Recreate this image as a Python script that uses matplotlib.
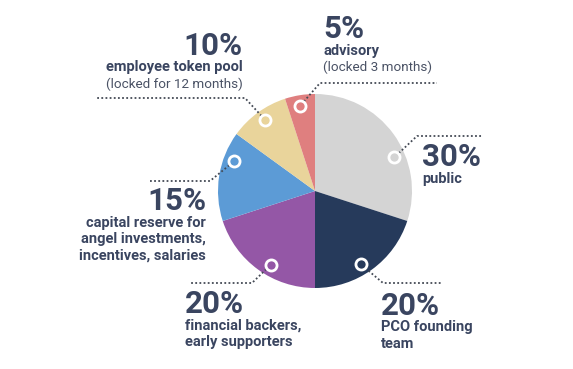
import matplotlib.pyplot as plt
import numpy as np

# data
labels = ['public', 'PCO founding\nteam', 'financial backers,\nearly supporters',
          'capital reserve for\nangel investments,\nincentives, salaries',
          'employee token pool', 'advisory']
notes = ['', '', '', '', '(locked for 12 months)', '(locked 3 months)']
shares = [30, 20, 20, 15, 10, 5]
colors = ['#d4d4d4', '#263a5b', '#9457a6', '#5c9bd6', '#e9d49b', '#df7f7f']

W, H = 573, 369
txt = '#3a4560'
plt.rcParams['font.family'] = ['Roboto', 'DejaVu Sans']

fig = plt.figure(figsize=(W / 100, H / 100), dpi=100)
ax = fig.add_axes([0, 0, 1, 1])

cx, cy, r = 315, H - 191, 97
ax.pie(shares, colors=colors, startangle=90, counterclock=False,
       center=(cx, cy), radius=r, frame=True,
       wedgeprops=dict(linewidth=0))
ax.set_xlim(0, W)
ax.set_ylim(0, H)
ax.set_aspect('equal')
ax.axis('off')

# layout: marker angle, leader path (pixel coords, y down), text anchor, alignment
marker_ang = [23, -58, -121, 160, 125, 100]
leaders = [
    [(417, 136), (482, 136)],
    [(383, 283), (442, 283)],
    [(252, 283), (190, 283)],
    [(210, 181), (150, 181)],
    [(245, 98), (97, 98)],
    [(320, 83), (437, 83)],
]
anchors = [(422, 166, 'left'), (381, 315, 'left'), (185, 313, 'left'),
           (206, 210, 'right'), (243, 55, 'right'), (323, 38, 'left')]
step = 16.5

for i, s in enumerate(shares):
    a = np.deg2rad(marker_ang[i])
    mx, my = cx + 0.89 * r * np.cos(a), cy + 0.89 * r * np.sin(a)
    ex, ey = leaders[i][0]
    fx, fy = leaders[i][1]
    ux, uy = ex - mx, (H - ey) - my
    d = np.hypot(ux, uy)
    sx, sy = mx + ux / d * 6, my + uy / d * 6
    ax.plot([sx, ex, fx], [sy, H - ey, H - fy], color='#444a55',
            lw=1.3, ls=(0, (1, 1.3)), solid_capstyle='butt', zorder=3)
    ax.plot(mx, my, 'o', ms=8, mfc='none', mec='white', mew=2, zorder=4)

    tx, ty, ha = anchors[i]
    ax.text(tx, H - ty, f'{s}%', fontsize=22.5, fontweight='bold', color=txt,
            ha=ha, va='baseline')
    lines = labels[i].split('\n')
    for k, line in enumerate(lines):
        ax.text(tx, H - ty - step * (k + 1), line, fontsize=10.5,
                fontweight='bold', color=txt, ha=ha, va='baseline')
    if notes[i]:
        ax.text(tx, H - ty - step * (len(lines) + 1), notes[i], fontsize=9.7,
                color='#4a5265', ha=ha, va='baseline')

fig.savefig('out.png', dpi=100)
